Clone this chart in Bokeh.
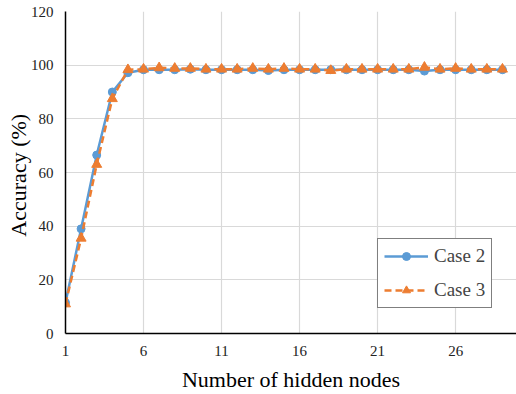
from bokeh.plotting import figure
from bokeh.models import Range1d, FixedTicker, Legend, LegendItem
from bokeh.embed import file_html
from bokeh.resources import INLINE

nodes = list(range(1, 30))
case2 = [11.5, 39, 66.5, 90, 97.2, 98.3, 98.3, 98.3, 98.5, 98.3, 98.3, 98.3, 98.3, 98.0, 98.3,
         98.3, 98.3, 98.3, 98.3, 98.3, 98.3, 98.3, 98.3, 97.8, 98.3, 98.3, 98.3, 98.3, 98.3]
case3 = [11, 35.5, 63, 87.5, 98.3, 98.5, 99.0, 98.8, 98.8, 98.5, 98.5, 98.5, 98.8, 98.5, 98.8,
         98.5, 98.5, 98.0, 98.5, 98.5, 98.5, 98.5, 98.5, 99.2, 98.5, 98.8, 98.5, 98.5, 98.5]
x_ticks = [1, 6, 11, 16, 21, 26]
y_ticks = [0, 20, 40, 60, 80, 100, 120]

FONT = "Liberation Serif"
BLUE = "#5B9BD5"
ORANGE = "#ED7D31"

p = figure(width=516, height=394, output_backend="svg", toolbar_location=None,
           x_range=Range1d(1, 29.9), y_range=Range1d(0, 120),
           min_border_left=65, min_border_right=0, min_border_top=11, min_border_bottom=60)
p.outline_line_color = None
p.background_fill_color = "white"
p.border_fill_color = "white"

l2 = p.line(nodes, case2, line_color=BLUE, line_width=2.5)
s2 = p.scatter(nodes, case2, marker="circle", size=8, fill_color=BLUE, line_color=BLUE)
l3 = p.line(nodes, case3, line_color=ORANGE, line_width=2.5, line_dash="7 4")
s3 = p.scatter(nodes, case3, marker="triangle", size=10, fill_color=ORANGE, line_color=ORANGE)

for ax in (p.xaxis[0], p.yaxis[0]):
    ax.axis_line_color = "black"
    ax.axis_line_width = 1.5
    ax.major_tick_out = 0
    ax.major_tick_in = 0
    ax.minor_tick_out = 0
    ax.minor_tick_in = 0
    ax.major_label_text_font = FONT
    ax.major_label_text_font_size = "15px"
    ax.major_label_text_color = "#222222"
    ax.axis_label_text_font = FONT
    ax.axis_label_text_font_style = "normal"
    ax.axis_label_text_font_size = "22px"
    ax.axis_label_text_color = "black"

p.xaxis.ticker = FixedTicker(ticks=x_ticks)
p.yaxis.ticker = FixedTicker(ticks=y_ticks)
p.xaxis.axis_label = "Number of hidden nodes"
p.yaxis.axis_label = "Accuracy  (%)"
p.xaxis.major_label_standoff = 12
p.yaxis.major_label_standoff = 12
p.xaxis.axis_label_standoff = 8
p.yaxis.axis_label_standoff = -3

p.xgrid.grid_line_color = "#d9d9d9"
p.ygrid.grid_line_color = "#d9d9d9"
p.xgrid.grid_line_width = 1.2
p.ygrid.grid_line_width = 1.2

legend = Legend(items=[LegendItem(label="Case 2", renderers=[l2, s2]),
                       LegendItem(label="Case 3", renderers=[l3, s3])],
                location=(312, 25))
legend.border_line_color = "black"
legend.border_line_width = 1
legend.background_fill_alpha = 1
legend.label_text_font = FONT
legend.label_text_font_size = "19px"
legend.glyph_width = 44
legend.label_standoff = 6
legend.spacing = 12
legend.padding = 6
legend.margin = 0
p.add_layout(legend, "center")

open("out.html", "w").write(file_html(p, INLINE))
